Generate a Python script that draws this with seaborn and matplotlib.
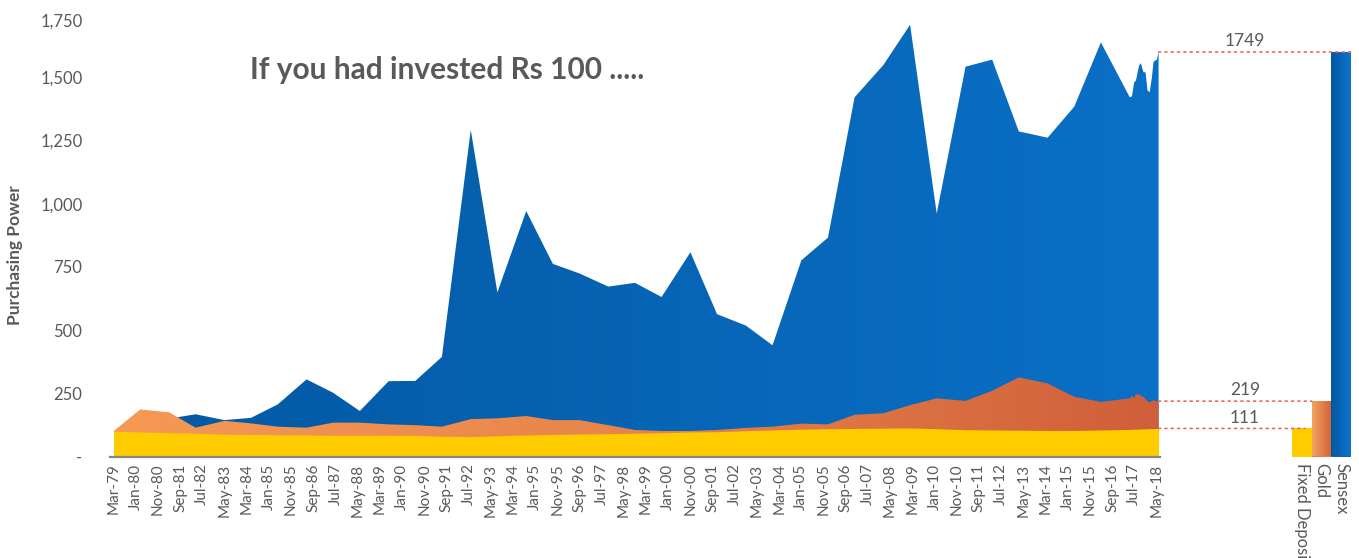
import numpy as np
import pandas as pd
import matplotlib.pyplot as plt
import seaborn as sns
from matplotlib.colors import LinearSegmentedColormap
from matplotlib.patches import ConnectionPatch

# months since Mar-79
months = np.array([0, 12, 25, 37, 50, 62, 74, 87, 99, 111,
                   124, 136, 148, 161, 173, 186, 198, 210, 223, 235,
                   247, 260, 272, 285, 297, 310, 322, 334, 347, 359,
                   371, 384, 396, 408, 421, 433, 445, 458,
                   459.0, 460.0, 460.8, 462.2, 463.0, 464.2, 465.1, 466.0,
                   467.0, 468.0, 468.7, 469.4, 470.2, 471.0])

sensex = [100, 125, 150, 167, 144, 153, 206, 305, 252, 180,
          298, 299, 394, 1292, 649, 971, 762, 724, 672, 687,
          631, 808, 563, 518, 440, 776, 866, 1421, 1549, 1708,
          961, 1542, 1570, 1286, 1261, 1384, 1638, 1421,
          1425, 1480, 1487, 1546, 1556, 1520, 1520, 1448,
          1441, 1500, 1560, 1566, 1569, 1600]

gold = [100, 186, 175, 114, 141, 131, 118, 114, 134, 134,
        127, 124, 118, 148, 151, 160, 144, 144, 124, 105,
        101, 101, 105, 113, 118, 130, 127, 165, 171, 203,
        230, 220, 260, 313, 289, 236, 216, 230,
        239, 232, 246, 246, 239, 236, 227, 219,
        214, 220, 223, 219, 220, 219]

fixed_deposit = [100, 97, 94, 92, 88, 87, 86, 85, 84, 84,
                 84, 84, 80, 79, 82, 85, 87, 89, 90, 92,
                 94, 97, 98, 102, 105, 108, 110, 111, 112, 113,
                 110, 106, 105, 104, 103, 103, 105, 107,
                 107.5, 108, 108, 108.5, 109, 109, 109.5, 110,
                 110, 110, 110.5, 111, 111, 111]

tick_labels = pd.date_range('1979-03-01', periods=48, freq='10MS').strftime('%b-%y')

bar_names = ['Fixed Deposit', 'Gold', 'Sensex']
bar_values = [111, 219, 1600]
bar_labels = ['111', '219', '1749']

GREY = '#595959'

sns.set_style('white')
plt.rcParams['font.family'] = ['Lato', 'DejaVu Sans']

blue_cmap = LinearSegmentedColormap.from_list('blue', ['#0358A2', '#0A70C6'])
orange_cmap = LinearSegmentedColormap.from_list('orange', ['#F59A55', '#E8844A', '#CF5F3A'])
gold_bar_cmap = LinearSegmentedColormap.from_list('goldbar', ['#F4A463', '#D06035'])
sensex_bar_cmap = LinearSegmentedColormap.from_list('sensexbar', ['#0457A0', '#0B75CD'])

fig = plt.figure(figsize=(13.59, 5.58), dpi=100)
ax = fig.add_axes([110.2 / 1359, 1 - 456.5 / 558, (1159.7 - 110.2) / 1359, 442.4 / 558])
ax2 = fig.add_axes([1292 / 1359, 1 - 456.5 / 558, 59 / 1359, 442.4 / 558])


def gradient_area(axis, x, y, cmap, z):
    poly = axis.fill_between(x, 0, y, facecolor='none', edgecolor='none', zorder=z)
    grad = np.linspace(0, 1, 256).reshape(1, -1)
    im = axis.imshow(grad, extent=[x.min(), x.max(), 0, max(y)], aspect='auto',
                     cmap=cmap, origin='lower', zorder=z)
    im.set_clip_path(poly.get_paths()[0], transform=axis.transData)


gradient_area(ax, months, sensex, blue_cmap, 1)
gradient_area(ax, months, gold, orange_cmap, 2)
ax.fill_between(months, 0, fixed_deposit, color='#FFCC00', lw=0, zorder=3)

ax.set_xlim(-1.5, 471.5)
ax.set_ylim(0, 1750)
ax.set_yticks(np.arange(0, 1751, 250))
ax.set_yticklabels(['-'] + [f'{v:,}' for v in range(250, 1751, 250)])
ax.set_xticks(np.arange(0, 471, 10))
ax.set_xticklabels(tick_labels, rotation=90)
ax.tick_params(axis='y', length=0, pad=20, labelsize=12, labelcolor=GREY)
ax.tick_params(axis='x', length=0, pad=5, labelsize=11, labelcolor=GREY)
ax.get_yticklabels()[-1].set_va('top')
for s in ['top', 'right', 'left']:
    ax.spines[s].set_visible(False)
ax.spines['bottom'].set_color('#868686')
ax.spines['bottom'].set_linewidth(1.6)
ax.spines['bottom'].set_zorder(5)

# bars on the right
df = pd.DataFrame({'name': bar_names, 'value': bar_values})
sns.barplot(data=df, x='name', y='value', hue='name', palette=['#FFCC00', '#E07E48', '#0866B7'],
            width=1, saturation=1, legend=False, ax=ax2, linewidth=0)
for bar, cm in zip(ax2.patches[1:], [gold_bar_cmap, sensex_bar_cmap]):
    x0, w, h = bar.get_x(), bar.get_width(), bar.get_height()
    im = ax2.imshow(np.linspace(0, 1, 256).reshape(1, -1), extent=[x0, x0 + w, 0, h],
                    aspect='auto', cmap=cm, origin='lower', zorder=3)
    im.set_clip_path(bar)
ax2.set_xlim(-0.5, 2.5)
ax2.set_ylim(0, 1750)
ax2.set_yticks([])
ax2.set_xlabel('')
ax2.set_ylabel('')
ax2.tick_params(axis='x', length=0, pad=5, labelsize=12, labelcolor=GREY)
for lab in ax2.get_xticklabels():
    lab.set_rotation(-90)
    lab.set_va('top')
    lab.set_ha('center')
for s in ax2.spines.values():
    s.set_visible(False)
ax2.patch.set_alpha(0)

# dotted guide lines and value labels
line_ends = [0.15, 0.5, 2.5]
for v, lab, xe in zip(bar_values, bar_labels, line_ends):
    con = ConnectionPatch(xyA=(months[-1], v), coordsA=ax.transData,
                          xyB=(xe, v), coordsB=ax2.transData,
                          color='#F06464', lw=1.2, linestyle=(0, (1.2, 2.6)), zorder=6)
    fig.add_artist(con)
    ax.annotate(lab, xy=(1245 / 1359, v), xycoords=('figure fraction', 'data'),
                xytext=(0, 2), textcoords='offset points', ha='center', va='bottom',
                fontsize=12.5, color=GREY, annotation_clip=False)

fig.text(250 / 1359, 1 - 70 / 558, 'If you had invested Rs 100 .....', fontsize=21.5,
         fontweight='bold', color=GREY, ha='left', va='center')
fig.text(15 / 1359, 1 - 255 / 558, 'Purchasing Power', fontsize=12.5, fontweight='bold',
         color=GREY, rotation=90, ha='center', va='center')

fig.savefig('out.png', dpi=100)
